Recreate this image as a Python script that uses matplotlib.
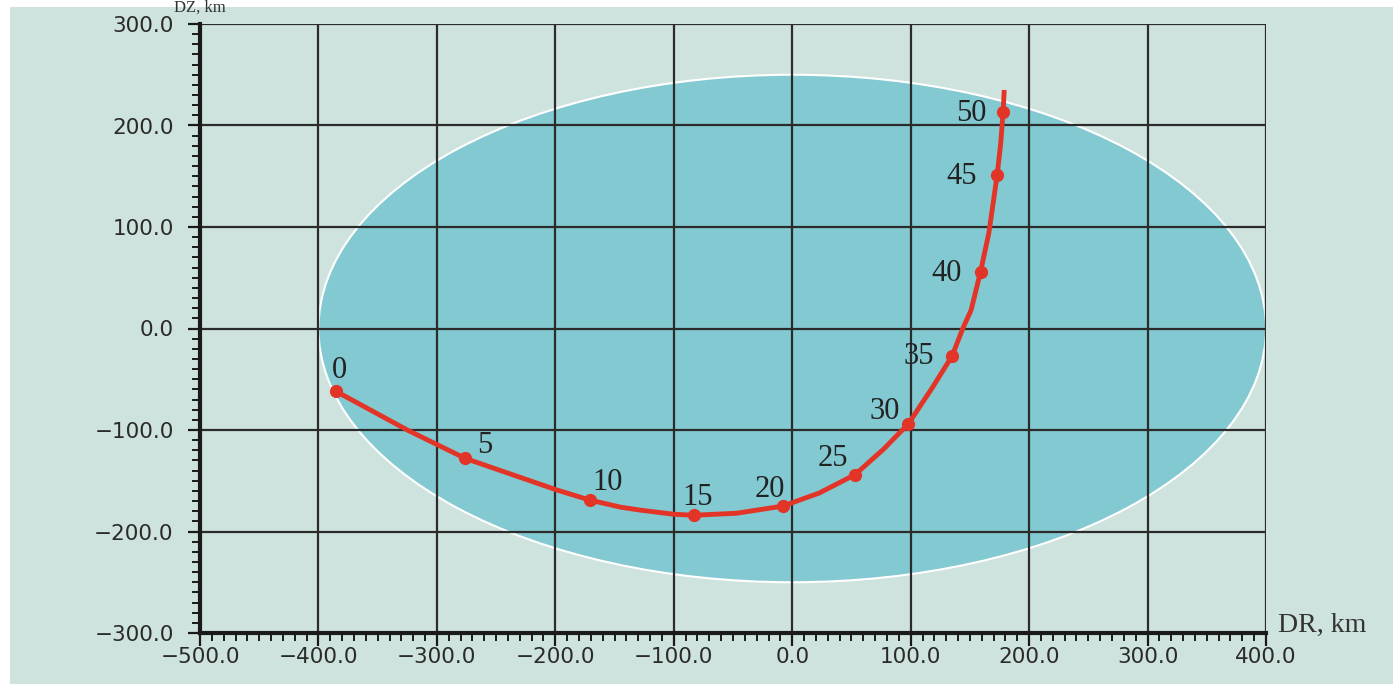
import matplotlib
matplotlib.use("Agg")
import matplotlib.pyplot as plt
from matplotlib.patches import Ellipse, Rectangle
from matplotlib.ticker import MultipleLocator, FuncFormatter

# trajectory markers, every 5 time units
times = [0, 5, 10, 15, 20, 25, 30, 35, 40, 45, 50]
dr = [-385, -276, -171, -83, -8, 53, 98, 135, 159, 173, 178]
dz = [-62, -128, -169, -184, -175, -144, -94, -27, 56, 151, 213]

# the traced track between the markers
track_dr = [-385, -325, -276, -199, -171, -145, -128, -100, -83, -47, -8,
            23, 53, 77, 98, 119, 135, 144, 151, 159, 166, 173, 176, 178, 179]
track_dz = [-62, -100, -128, -159, -169, -176, -179, -183, -184, -182, -175,
            -162, -144, -119, -94, -57, -27, 0, 18, 56, 94, 151, 182, 213, 235]

# dispersion ellipse (centre, full width, full height)
ell_center = (0, 0)
ell_width = 800
ell_height = 500

# label offsets in points relative to each marker
label_offsets = {
    0: (2, 17.5), 5: (14, 11.5), 10: (13, 15.5), 15: (3, 15.5), 20: (-9, 14.5),
    25: (-16, 14.5), 30: (-17, 11.5), 35: (-24, 2), 40: (-24.5, 1.5),
    45: (-25.5, 1.5), 50: (-22.5, 1.5),
}

bg = "#cfe3de"
fill = "#83c9d1"
red = "#e23528"
grid = "#2b2b2b"

fig = plt.figure(figsize=(13.93, 6.84), dpi=100, facecolor="white")
fig.patches.append(Rectangle((10 / 1393, 0), 1 - 10 / 1393, 1 - 7 / 684,
                             transform=fig.transFigure, facecolor=bg,
                             edgecolor="none", zorder=-10))

ax = fig.add_axes([200 / 1393, 1 - 633 / 684, 1066 / 1393, 609 / 684])
ax.set_facecolor(bg)
ax.set_xlim(-500, 400)
ax.set_ylim(-300, 300)

ax.add_patch(Ellipse(ell_center, ell_width, ell_height, facecolor=fill,
                     edgecolor="white", lw=1.5, zorder=1))

fmt = FuncFormatter(lambda v, pos: f"{v:.1f}".replace("-", "\u2212"))
ax.xaxis.set_major_locator(MultipleLocator(100))
ax.xaxis.set_minor_locator(MultipleLocator(10))
ax.yaxis.set_major_locator(MultipleLocator(100))
ax.yaxis.set_minor_locator(MultipleLocator(10))
ax.xaxis.set_major_formatter(fmt)
ax.yaxis.set_major_formatter(fmt)

ax.grid(True, which="major", color=grid, lw=1.6, zorder=2)
ax.set_axisbelow(False)
for s in ("top", "right"):
    ax.spines[s].set_visible(False)
for s in ("left", "bottom"):
    ax.spines[s].set_linewidth(3)
    ax.spines[s].set_color("#1a1a1a")
    ax.spines[s].set_zorder(5)

ax.tick_params(which="major", length=9, width=1.6, color="#1a1a1a",
               labelsize=15.5, labelcolor="#2a2a2a")
ax.tick_params(which="minor", length=6, width=1.4, color="#1a1a1a")
ax.tick_params(axis="y", which="major", pad=10)
ax.tick_params(axis="x", which="major", pad=1)

ax.plot(track_dr, track_dz, color=red, lw=3.5, zorder=4,
        solid_capstyle="butt", solid_joinstyle="round")
ax.plot(dr, dz, "o", color=red, ms=8.5, zorder=5)

for t, x, y in zip(times, dr, dz):
    ax.annotate(str(t), (x, y), xytext=label_offsets[t],
                textcoords="offset points", ha="center", va="center_baseline",
                fontsize=22, family="Liberation Serif", color="#222222",
                zorder=6)

fig.text(1278 / 1393, 1 - 625 / 684, "DR, km", family="Liberation Serif",
         fontsize=20, color="#333333", ha="left", va="center")
fig.text(200 / 1393, 1.0, "DZ, km", family="Liberation Serif",
         fontsize=12, color="#333333", ha="center", va="top")

fig.savefig("out.png", dpi=100, facecolor="white")
